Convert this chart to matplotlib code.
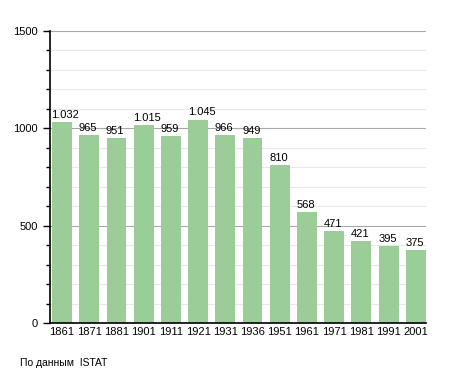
import matplotlib.pyplot as plt
from matplotlib.ticker import MultipleLocator

years = ["1861", "1871", "1881", "1901", "1911", "1921", "1931",
         "1936", "1951", "1961", "1971", "1981", "1991", "2001"]
population = [1032, 965, 951, 1015, 959, 1045, 966, 949, 810, 568, 471, 421, 395, 375]


def fmt_label(v):
    # italian thousands separator
    return f"{v:,}".replace(",", ".")


plt.rcParams["font.family"] = ["Liberation Sans", "DejaVu Sans"]

fig = plt.figure(figsize=(4.55, 3.73), dpi=100)
ax = fig.add_axes([0.11, 0.134, 0.826, 0.783])

x = list(range(len(years)))
bar_w = 0.73
ax.bar(x, population, width=bar_w, color="#9acd98", zorder=2)

for i, v in enumerate(population):
    ax.text(i - bar_w / 2 - 0.02, v + 12, fmt_label(v), ha="left", va="bottom",
            fontsize=8, color="black", zorder=3)

ax.set_xlim(-0.44, 13.37)
ax.set_ylim(0, 1500)
ax.set_xticks(x)
ax.set_xticklabels(years, fontsize=8)
ax.tick_params(axis="x", length=0, pad=3)

ax.yaxis.set_major_locator(MultipleLocator(500))
ax.yaxis.set_minor_locator(MultipleLocator(100))
ax.tick_params(axis="y", which="major", length=5, width=1, labelsize=8, pad=4)
ax.tick_params(axis="y", which="minor", length=3, width=1)

ax.grid(axis="y", which="minor", color="#e8e8e8", linewidth=0.8, zorder=0)
ax.grid(axis="y", which="major", color="#a8a8a8", linewidth=0.8, zorder=1)

for side in ["top", "right"]:
    ax.spines[side].set_visible(False)
ax.spines["left"].set_linewidth(1.2)
ax.spines["bottom"].set_linewidth(1.2)

fig.text(0.044, 0.014, "По данным  ISTAT", fontsize=7.5, ha="left", va="bottom")

fig.savefig("out.png", dpi=100)
